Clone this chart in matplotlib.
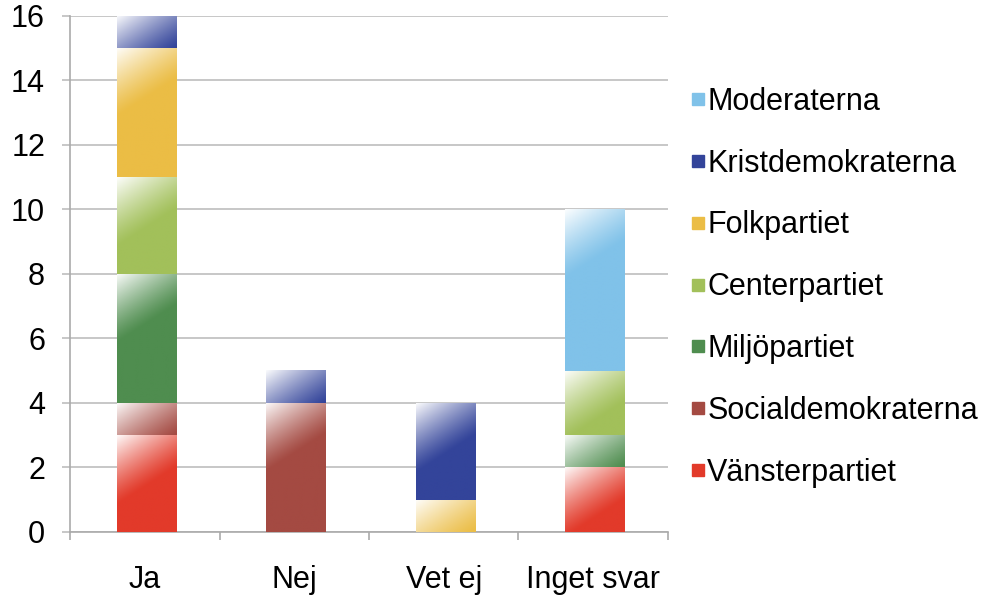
import numpy as np
import matplotlib
matplotlib.use("Agg")
import matplotlib.pyplot as plt
from matplotlib.lines import Line2D
from matplotlib.colors import to_rgb

plt.rcParams['font.family'] = ['Liberation Sans', 'DejaVu Sans']

categories = ["Ja", "Nej", "Vet ej", "Inget svar"]
parties = ["Vänsterpartiet", "Socialdemokraterna", "Miljöpartiet", "Centerpartiet",
           "Folkpartiet", "Kristdemokraterna", "Moderaterna"]
colors = ["#E23A2A", "#A44A42", "#4F8D4F", "#A2C05A", "#EBBD45", "#33449A", "#80C2E9"]

vanster = [3, 0, 0, 2]
social = [1, 4, 0, 0]
miljo = [4, 0, 0, 1]
center = [3, 0, 0, 2]
folk = [4, 0, 1, 0]
krist = [1, 1, 3, 0]
moderat = [0, 0, 0, 5]
series = [vanster, social, miljo, center, folk, krist, moderat]

fig = plt.figure(figsize=(9.82, 5.96), dpi=100)
ax = fig.add_axes([0.0713, 0.1074, 0.6089, 0.8658])
x = np.arange(len(categories))
ax.set_xlim(-0.5, len(categories) - 0.5)
ax.set_ylim(0, 16)
ax.set_yticks(range(0, 17, 2))
ax.set_xticks(x)
ax.set_xticklabels(categories)
ax.set_xticks(np.arange(-0.5, len(categories), 1), minor=True)
ax.grid(axis='y', color='#BDBDBD', lw=1.2)
ax.set_axisbelow(True)
for s in ['top', 'right']:
    ax.spines[s].set_visible(False)
for s in ['left', 'bottom']:
    ax.spines[s].set_color('#AAAAAA')
    ax.spines[s].set_linewidth(1.2)
ax.tick_params(axis='y', length=6, color='#BDBDBD', width=1.2, labelsize=22, pad=12)
ax.tick_params(axis='x', which='major', length=0, labelsize=22, pad=24)
ax.tick_params(axis='x', which='minor', length=6, color='#AAAAAA', width=1.2)

width = 0.4
offset = 0.012  # bars sit a hair right of the category centre
fig.canvas.draw()
to_px = ax.transData
bottom = np.zeros(len(categories))
for vals, col in zip(series, colors):
    vals = np.array(vals, dtype=float)
    rgb = np.array(to_rgb(col))
    for i, v in enumerate(vals):
        if v <= 0:
            continue
        x0, x1 = i + offset - width / 2, i + offset + width / 2
        y0, y1 = bottom[i], bottom[i] + v
        (px0, py0), (px1, py1) = to_px.transform([(x0, y0), (x1, y1)])
        nx, ny = max(int(px1 - px0), 2), max(int(py1 - py0), 2)
        dx, dy = np.meshgrid(np.arange(nx), np.arange(ny))
        t = (dx * 0.55 + dy * 0.85) / 58.0
        a = np.clip(1 - t, 0, 1) ** 1.2 * 0.97
        img = rgb[None, None, :] * (1 - a[..., None]) + a[..., None]
        ax.imshow(img, extent=[x0, x1, y0, y1], origin='upper', aspect='auto',
                  interpolation='bilinear', zorder=3)
    bottom += vals
ax.set_xlim(-0.5, len(categories) - 0.5)
ax.set_ylim(0, 16)

handles = [Line2D([], [], marker='s', ls='', color=c, markersize=8) for c in colors[::-1]]
fig.legend(handles, parties[::-1], loc='center left', bbox_to_anchor=(0.7016, 0.518),
           frameon=False, fontsize=22, handlelength=0.6, handletextpad=0.0,
           labelspacing=1.04, borderaxespad=0, borderpad=0)

fig.savefig("out.png", dpi=100)
